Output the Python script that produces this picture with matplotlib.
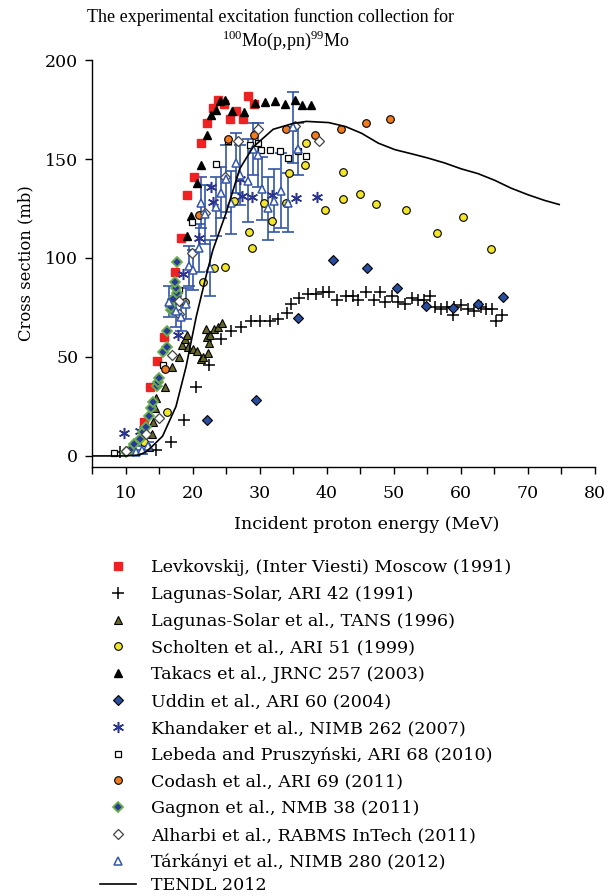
import numpy as np
import matplotlib
matplotlib.use("Agg")
import matplotlib.pyplot as plt

plt.rcParams['font.family'] = ['DejaVu Serif']
plt.rcParams['mathtext.fontset'] = 'custom'
plt.rcParams['mathtext.rm'] = 'Liberation Serif'

# Dati

# Levkovskij (1991)
lev_x = [12.7, 13.6, 14.7, 15.7, 17.4, 18.25, 19.2, 20.2, 21.3, 22.1, 23.0, 23.8, 24.7, 25.6, 26.5, 27.5, 28.3, 29.2]
lev_y = [17, 35, 48, 60, 93, 110, 132, 141, 158, 168, 176, 180, 178, 170, 174, 170, 182, 178]

# Lagunas-Solar ARI 42 (1991)
lag_x = [9.1, 14.5, 16.8, 18.7, 20.5, 22.5, 24.2, 25.7, 27.2, 28.7, 30.1, 31.5, 32.8, 34.1, 34.6, 35.9,
         37.2, 38.4, 39.4, 40.4, 41.6, 42.9, 43.9, 44.7, 45.8, 47.0, 48.0, 48.7, 49.8, 50.7, 51.7, 52.7,
         53.6, 54.5, 55.4, 56.1, 57.0, 57.9, 58.8, 59.0, 60.1, 61.1, 62.0, 63.1, 63.8, 64.6, 65.2, 66.1]
lag_y = [2, 3, 7, 18, 35, 46, 59, 63, 65, 68, 68, 68, 69, 72, 77, 80,
         82, 82, 83, 83, 79, 81, 81, 79, 83, 79, 83, 78, 81, 78, 77, 80,
         79, 79, 81, 75, 74, 75, 71, 75, 76, 74, 73, 75, 74, 74, 68, 71]

# Lagunas-Solar et al. TANS (1996)
lagt_x = [13.5, 13.9, 14.0, 14.1, 14.4, 14.5, 15.9, 16.9, 17.9, 18.4, 18.9, 19.1, 19.3, 20.0, 20.7,
          21.2, 21.6, 22.0, 22.2, 22.3, 22.4, 22.6, 23.2, 23.7, 24.3]
lagt_y = [4.5, 11, 25, 17, 24, 29.5, 35, 45, 50, 56, 59, 61, 55, 54, 53,
          49, 50, 64, 60, 52, 57, 61, 64, 65, 67]

# Scholten et al. (1999)
sch_x = [12.7, 16.2, 18.9, 21.6, 23.2, 24.8, 26.2, 28.4, 28.9, 30.7, 31.8, 33.9, 34.3, 36.8, 36.9,
         39.7, 42.4, 42.5, 45.0, 47.4, 51.8, 56.4, 60.4, 64.5]
sch_y = [7, 22, 78, 88, 95, 95.5, 129, 113, 105, 128, 118.5, 128, 143, 147, 158,
         124, 143.5, 130, 132.5, 127.3, 124, 112.7, 120.7, 104.3]

# Takacs et al. (2003)
tak_x = [19.1, 19.7, 20.6, 21.3, 22.1, 22.7, 23.5, 24.1, 24.8, 25.9, 27.7, 29.3, 30.8, 32.3, 33.8,
         35.2, 36.3, 37.7]
tak_y = [111, 121, 138, 147, 162, 172, 175, 179.5, 180, 174.5, 173.5, 178.5, 179, 179.5, 178,
         180, 177.5, 177.5]

# Uddin et al. (2004)
udd_x = [22.2, 29.5, 35.7, 41.0, 46.0, 50.5, 54.8, 58.9, 62.6, 66.3]
udd_y = [18, 28.5, 69.5, 99, 95, 85, 75.5, 74.5, 76.5, 80.5]

# Khandaker et al. (2007)
kha_x = [9.7, 12.1, 17.8, 18.6, 20.9, 22.7, 23.0, 27.0, 27.3, 28.8, 31.9, 35.4, 38.5]
kha_y = [11.5, 12.5, 61, 92, 110, 136, 128.5, 140, 131.5, 131, 132, 130.5, 131]

# Lebeda and Pruszynski (2010)
leb_x = [8.3, 15.6, 17.9, 19.9, 23.5, 25.3, 28.6, 29.8, 30.2, 31.5, 33.0, 34.2, 35.7, 36.9]
leb_y = [1.5, 46, 84, 118, 147.5, 159, 157, 158, 154.5, 154.5, 154, 150.5, 154, 151.5]

# Codash et al. (2011)
cod_x = [15.8, 21.0, 25.3, 29.1, 33.9, 38.3, 42.2, 45.9, 49.4]
cod_y = [44, 121.5, 160, 162, 165, 162, 165, 168, 170]

# Gagnon et al. (2011)
gag_x = [10.1, 10.8, 11.3, 12.1, 12.6, 13.0, 13.4, 13.8, 14.0, 14.7, 14.8, 14.9, 15.5, 16.2, 16.2,
         16.7, 16.8, 17.1, 17.6, 17.5, 17.4, 17.7]
gag_y = [1.8, 3.5, 6, 8.5, 12, 14.5, 20, 24, 27, 35.5, 37.5, 39.5, 52.5, 55, 63,
         73.5, 75, 79.5, 82.5, 85, 88, 98]

# Alharbi et al. (2011)
alh_x = [10.0, 13.0, 14.9, 16.9, 17.9, 17.9, 19.9, 21.9, 24.8, 26.8, 29.8, 35.2, 38.8]
alh_y = [2.5, 11, 19, 51, 71.5, 78.5, 102.5, 122.5, 141, 159, 165, 166.5, 159]

# Tarkanyi et al. (2012) con barre d'errore
tar_x = [11.5, 12.5, 13.3, 16.5, 17.5, 18.2, 19.0, 19.5, 20.1, 20.9, 21.3, 21.9, 22.6, 23.4, 24.2,
         25.0, 25.7, 26.4, 27.1, 28.3, 29.0, 29.8, 30.4, 31.3, 32.2, 33.1, 34.2, 35.0, 35.7]
tar_y = [2, 3, 5, 78, 73, 70, 77, 96, 94, 105, 128, 122, 95, 126, 133,
         140, 128, 148, 142, 139, 155, 152, 135, 125, 129, 134, 128, 166, 155]
tar_err = [1, 2, 2, 8, 8, 7, 8, 10, 10, 12, 13, 15, 14, 15, 13,
           17, 16, 15, 15, 21, 13, 16, 16, 16, 16, 19, 15, 18, 13]

# TENDL 2012
tendl_x = [5, 8, 10, 12, 13, 14, 15.5, 17.5, 19, 20.5, 22, 23, 25, 27, 29, 32, 35, 37, 40.3, 42.8,
           45.2, 47.7, 50.2, 52.7, 55.1, 57.6, 60.1, 62.6, 65.1, 67.5, 70, 72.5, 74.7]
tendl_y = [0, 0, 0, 0.5, 2, 5, 10, 25, 45, 70, 91, 104, 123, 145, 156, 165, 168, 169, 168.4, 166.4,
           163, 158, 154.7, 152.6, 150.5, 148, 145, 142.6, 139.2, 135.3, 132, 129.1, 127]

# Grafico

fig = plt.figure(figsize=(6.15, 8.96), dpi=100)
ax = fig.add_axes([0.150, 0.479, 0.817, 0.454])

blue = '#3556a8'
ax.errorbar(tar_x, tar_y, yerr=tar_err, fmt='none', ecolor=blue, elinewidth=1.2, capsize=4, capthick=1.2, zorder=2)

h_lev, = ax.plot(lev_x, lev_y, 's', ms=5.5, mfc='#ee2222', mec='#ee2222', ls='none', zorder=3)
h_lag, = ax.plot(lag_x, lag_y, '+', ms=8, mec='black', mew=1.1, ls='none', zorder=3)
h_lagt, = ax.plot(lagt_x, lagt_y, '^', ms=5.5, mfc='#66662a', mec='black', mew=0.8, ls='none', zorder=3)
h_sch, = ax.plot(sch_x, sch_y, 'o', ms=5.5, mfc='#f2e62a', mec='black', mew=0.8, ls='none', zorder=3)
h_tak, = ax.plot(tak_x, tak_y, '^', ms=6, mfc='black', mec='black', ls='none', zorder=3)
h_udd, = ax.plot(udd_x, udd_y, 'D', ms=5, mfc='#2a4c9c', mec='black', mew=0.8, ls='none', zorder=3)
h_kha, = ax.plot(kha_x, kha_y, marker=(6, 2, 0), ms=8, mec='#2b3590', mew=1.1, ls='none', zorder=3)
h_leb, = ax.plot(leb_x, leb_y, 's', ms=5, mfc='white', mec='black', mew=0.9, ls='none', zorder=3)
h_cod, = ax.plot(cod_x, cod_y, 'o', ms=5.5, mfc='#f07a1e', mec='black', mew=0.8, ls='none', zorder=3)
h_gag, = ax.plot(gag_x, gag_y, 'D', ms=5, mfc='#2a3a9a', mec='#6ab04c', mew=1.3, ls='none', zorder=3)
h_alh, = ax.plot(alh_x, alh_y, 'D', ms=5, mfc='white', mec='#444444', mew=0.9, ls='none', zorder=3)
h_tar, = ax.plot(tar_x, tar_y, '^', ms=5.5, mfc='white', mec=blue, mew=1.1, ls='none', zorder=3)
h_ten, = ax.plot(tendl_x, tendl_y, '-', color='black', lw=1.2, zorder=4)

ax.set_xlim(5, 80)
ax.set_ylim(-5.5, 200)
ax.set_xticks(np.arange(5, 81, 5))
ax.set_xticklabels(['' if v % 10 else str(v) for v in range(5, 81, 5)])
ax.set_yticks([0, 50, 100, 150, 200])
ax.spines['top'].set_visible(False)
ax.spines['right'].set_visible(False)
for s in ['left', 'bottom']:
    ax.spines[s].set_linewidth(1.0)
ax.tick_params(axis='both', labelsize=12.5, width=1.0, length=5, pad=5)
ax.tick_params(axis='x', pad=8)

ax.set_xlabel('Incident proton energy (MeV)', fontsize=12.6, labelpad=10, x=0.546)
ax.set_ylabel('Cross section (mb)', fontsize=11.8, labelpad=8)

# titolo in due righe
fig.text(0.44, 0.981, 'The experimental excitation function collection for', ha='center', va='center',
         fontsize=13, family='Liberation Serif')
fig.text(0.465, 0.955, r'$^{100}$Mo(p,pn)$^{99}$Mo', ha='center', va='center', fontsize=13,
         family='Liberation Serif')

handles = [h_lev, h_lag, h_lagt, h_sch, h_tak, h_udd, h_kha, h_leb, h_cod, h_gag, h_alh, h_tar]
labels = ['Levkovskij, (Inter Viesti) Moscow (1991)',
          'Lagunas-Solar, ARI 42 (1991)',
          'Lagunas-Solar et al., TANS (1996)',
          'Scholten et al., ARI 51 (1999)',
          'Takacs et al., JRNC 257 (2003)',
          'Uddin et al., ARI 60 (2004)',
          'Khandaker et al., NIMB 262 (2007)',
          'Lebeda and Pruszyński, ARI 68 (2010)',
          'Codash et al., ARI 69 (2011)',
          'Gagnon et al., NMB 38 (2011)',
          'Alharbi et al., RABMS InTech (2011)',
          'Tárkányi et al., NIMB 280 (2012)']
fig.legend(handles, labels, loc='upper left', bbox_to_anchor=(0.1626, 0.376), frameon=False,
           fontsize=12.6, handlelength=2.05, handletextpad=0.85, labelspacing=0.56, borderaxespad=0,
           borderpad=0)
# TENDL separato, più vicino alla riga sopra
fig.legend([h_ten], ['TENDL 2012'], loc='center left', bbox_to_anchor=(0.1626, 0.0118), frameon=False,
           fontsize=12.6, handlelength=2.05, handletextpad=0.85, borderaxespad=0, borderpad=0)

fig.savefig('out.png', dpi=100)
